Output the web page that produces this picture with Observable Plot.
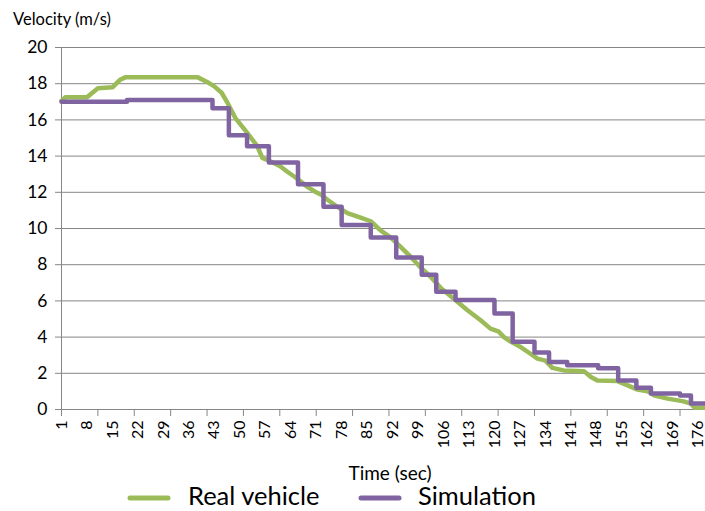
<!DOCTYPE html>
<html><head><meta charset="utf-8">
<script src="https://cdn.jsdelivr.net/npm/d3@7"></script>
<script src="https://cdn.jsdelivr.net/npm/@observablehq/plot@0.6"></script>
<style>
body{margin:0;background:#fff;}
#wrap{position:relative;width:705px;height:511px;overflow:hidden;background:#fff;}
#wrap svg{position:absolute;left:0;top:0;}
</style></head><body>
<div id="wrap"></div>
<script>
// Real vehicle (time in s, velocity in m/s)
const realTime = [1, 2, 8, 9.5, 11, 15, 17, 18.5, 38.5, 41, 43, 45, 46.6, 48.8, 52, 54.8, 56.2, 58.5, 61, 63, 65.8, 68.6, 71, 72.5, 74, 76.8, 79.6, 83, 86, 88.7, 91.5, 94.2, 97, 99.7, 102.5, 105.2, 108.9, 112.5, 116.2, 118.9, 121.2, 122.6, 124.4, 127.2, 129.9, 131.8, 134, 135.9, 139, 144.6, 146.5, 148.3, 153.8, 156.6, 159.3, 162.1, 164, 167.6, 172, 174, 175, 178];
const realVel  = [17.05, 17.25, 17.25, 17.5, 17.75, 17.8, 18.2, 18.35, 18.35, 18.1, 17.85, 17.5, 16.95, 16.1, 15.3, 14.55, 13.9, 13.7, 13.45, 13.15, 12.75, 12.3, 12.0, 11.85, 11.6, 11.2, 10.85, 10.62, 10.4, 9.9, 9.5, 8.98, 8.43, 7.85, 7.32, 6.72, 6.1, 5.5, 4.93, 4.47, 4.3, 4.0, 3.75, 3.45, 3.08, 2.81, 2.7, 2.3, 2.16, 2.12, 1.8, 1.6, 1.57, 1.33, 1.1, 1.0, 0.77, 0.6, 0.45, 0.32, 0.1, 0.1];
// Simulation: time where each velocity step begins
const simTime = [1, 19, 42.5, 47, 52, 58, 66, 73, 78, 86, 93, 100, 104, 109.3, 120, 125, 131, 135, 140, 148.5, 154, 159, 163, 171, 174, 178];
const simVel  = [17.0, 17.1, 16.65, 15.15, 14.55, 13.65, 12.45, 11.2, 10.2, 9.5, 8.4, 7.45, 6.5, 6.05, 5.3, 3.75, 3.15, 2.62, 2.45, 2.28, 1.6, 1.2, 0.88, 0.78, 0.33, 0.33];

const yTicks = [0, 2, 4, 6, 8, 10, 12, 14, 16, 18, 20];
const xLabelTicks = [1, 8, 15, 22, 29, 36, 43, 50, 57, 64, 71, 78, 85, 92, 99, 106, 113, 120, 127, 134, 141, 148, 155, 162, 169, 176];
const xTickMarks = [1, 11, 21, 31, 41, 51, 61, 71, 81, 91, 101, 111, 121, 131, 141, 151, 161, 171];
const seriesNames = ["Real vehicle", "Simulation"];
const seriesColors = ["#9BBB59", "#8064A2"];

const real = realTime.map((t, i) => ({t, v: realVel[i]}));
const sim = simTime.map((t, i) => ({t, v: simVel[i]}));

const FONT = "Lato, 'Open Sans', sans-serif";
const chart = Plot.plot({
  width: 705, height: 511,
  marginLeft: 61, marginRight: 0, marginTop: 47, marginBottom: 102,
  x: {domain: [1, 178], label: null},
  y: {domain: [0, 20], label: null},
  style: {fontFamily: FONT, color: "#000", background: "transparent", overflow: "visible"},
  marks: [
    Plot.gridY(yTicks, {stroke: "#868686", strokeOpacity: 1}),
    Plot.ruleX([1], {stroke: "#868686"}),
    Plot.axisY(yTicks, {tickSize: 6, tickPadding: 8, stroke: "#868686", fill: "#000", fontSize: 17.5, label: null}),
    Plot.axisX(xTickMarks, {tickSize: 7, stroke: "#868686", tickFormat: () => "", label: null}),
    Plot.axisX(xLabelTicks, {tickSize: 0, tickPadding: 11, tickRotate: -90, fontSize: 16, fill: "#000", label: null}),
    Plot.line(real, {x: "t", y: "v", stroke: seriesColors[0], strokeWidth: 4.5}),
    Plot.line(sim, {x: "t", y: "v", stroke: seriesColors[1], strokeWidth: 4.5, curve: "step-after"})
  ]
});
document.getElementById("wrap").appendChild(chart);

// overlay texts and legend
const ov = d3.select("#wrap").append("svg").attr("width", 705).attr("height", 511)
  .style("font-family", FONT).style("pointer-events", "none");
ov.append("text").attr("x", 13).attr("y", 25).attr("font-size", 16.5).text("Velocity (m/s)");
ov.append("text").attr("x", 390).attr("y", 480).attr("text-anchor", "middle").attr("font-size", 19).text("Time (sec)");
const legX = [128, 359];
const legTextX = [188, 418];
seriesNames.forEach((n, i) => {
  ov.append("line").attr("x1", legX[i] + 2).attr("x2", legX[i] + 40).attr("y1", 498).attr("y2", 498)
    .attr("stroke", seriesColors[i]).attr("stroke-width", 5).attr("stroke-linecap", "round");
  ov.append("text").attr("x", legTextX[i]).attr("y", 505).attr("font-size", 25.5).text(n);
});
</script>
</body></html>
